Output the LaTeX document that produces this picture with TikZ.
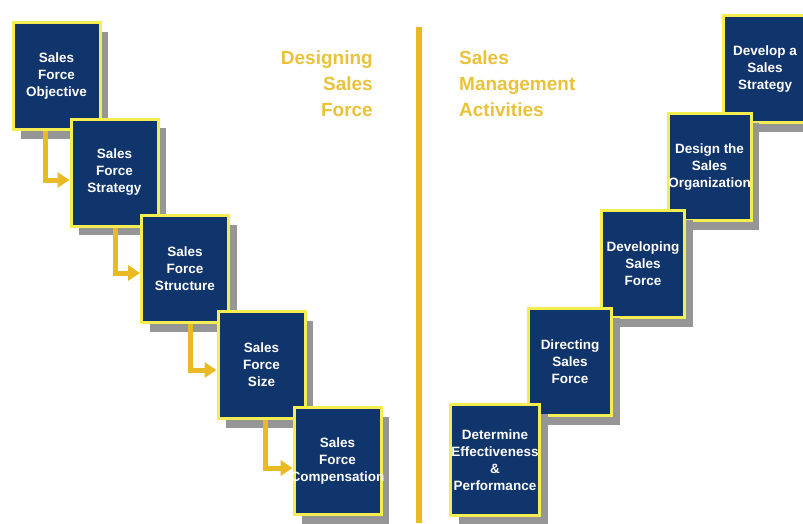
\documentclass[tikz,border=0pt]{standalone}
\usepackage{fontspec}
\setmainfont{Liberation Sans}
\usetikzlibrary{arrows.meta,shadows}

\definecolor{navy}{RGB}{16,52,108}
\definecolor{rim}{RGB}{246,238,80}
\definecolor{gold}{RGB}{233,186,36}
\definecolor{titlegold}{RGB}{234,194,58}
\definecolor{shade}{RGB}{150,150,150}

\begin{document}
\begin{tikzpicture}[x=1pt, y=-1pt,
    box/.style={draw=rim, line width=3pt, fill=navy, text=white,
      minimum width=87pt, minimum height=107pt, inner sep=0pt,
      align=center, font=\fontsize{13.5}{17}\selectfont\bfseries,
      drop shadow={shadow xshift=8pt, shadow yshift=-9pt, fill=shade, opacity=1}},
    rbox/.style={box, minimum width=83pt},
    title/.style={text=titlegold, font=\fontsize{19}{26}\selectfont\bfseries, inner sep=0pt},
    arrow/.style={gold, line width=5pt, -{Triangle[length=12pt, width=15pt]}}]
      \useasboundingbox (0,0) rectangle (803,523);

      \draw[gold, line width=6pt] (419,27) -- (419,523);

      \node[title, align=right, anchor=east] (left) at (373,84) {Designing\\Sales\\Force};
      \node[title, align=left, anchor=west] (right) at (459,84) {Sales\\Management\\Activities};

      \node[box] (b1) at (56.5,76) {Sales\\Force\\Objective};
      \node[box] (b2) at (114.5,172.5) {Sales\\Force\\Strategy};
      \node[box] (b3) at (185,269) {Sales\\Force\\Structure};
      \node[box] (b4) at (261.5,365) {Sales\\Force\\Size};
      \node[box] (b5) at (337.5,461) {Sales\\Force\\\makebox[0pt]{Compensation}};

      \foreach \from/\to/\dx/\dy in {b1/b2/-11.5/-7.5, b2/b3/0.5/-4, b3/b4/5/-5, b4/b5/3.5/-7}
        \draw[arrow] ([xshift=\dx pt]\from.south) |- ([yshift=\dy pt]\to.west);

      \node[rbox] (a1) at (765,69) {Develop a\\Sales\\Strategy};
      \node[rbox] (a2) at (709.5,167) {Design the\\Sales\\\makebox[0pt]{Organization}};
      \node[rbox] (a3) at (643,264) {Developing\\Sales\\Force};
      \node[rbox] (a4) at (570,362) {Directing\\Sales\\Force};
      \node[rbox, minimum width=89pt, minimum height=111pt] (a5) at (495,460)
        {Determine\\\makebox[0pt]{Effectiveness}\\\&\\Performance};
    \end{tikzpicture}
\end{document}
